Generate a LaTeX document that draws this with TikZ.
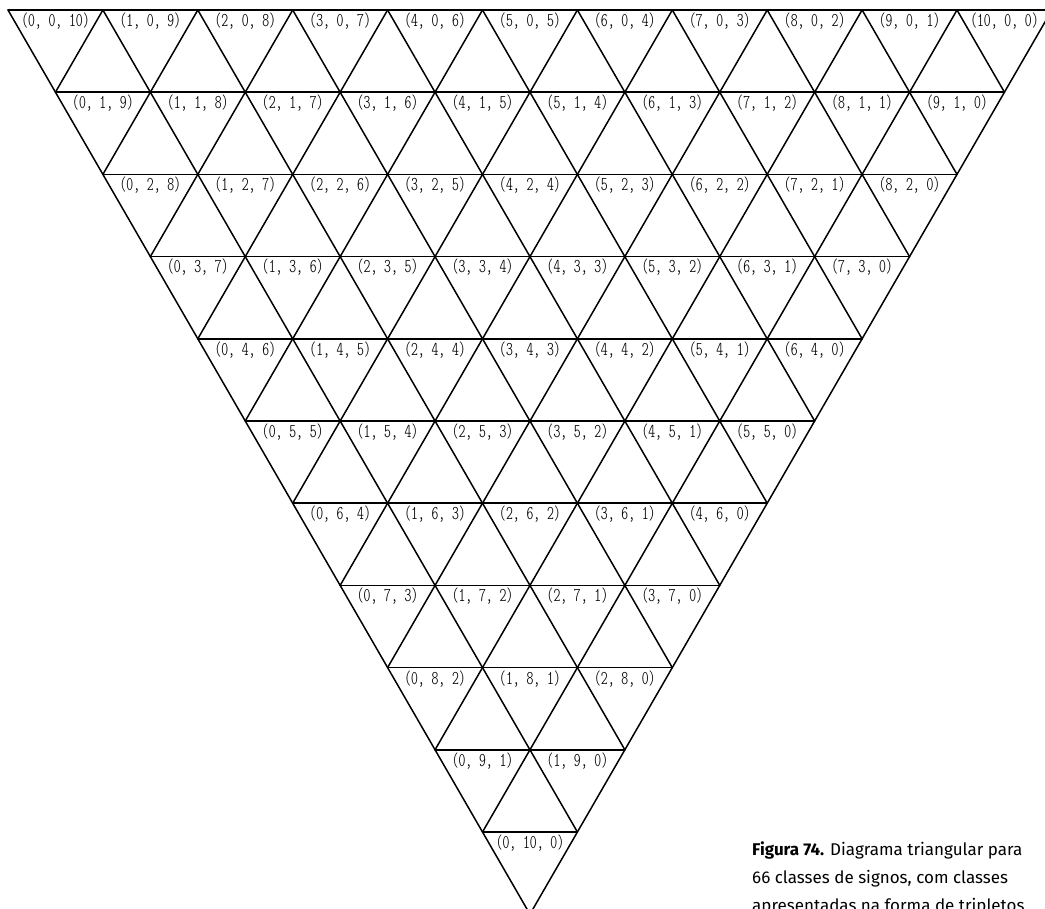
\documentclass[tikz,border=0pt]{standalone}
\usepackage{fontspec}
\newfontfamily\capfont{Fira Sans}
\IfFontExistsTF{FiraSans-ExtraBold.otf}
  {\newfontfamily\capheavy{FiraSans-ExtraBold.otf}}
  {\newcommand\capheavy{\bfseries}}
\begin{document}
\begin{tikzpicture}[x=1pt,y=-1pt,
  grid/.style={line width=1.5pt, line cap=round, line join=round},
  lab/.style={font=\fontsize{19.5}{19.5}\fontseries{lc}\ttfamily\selectfont, inner sep=0pt, anchor=center},
  captext/.style={anchor=base west, inner sep=0pt, font=\capfont\fontsize{17}{28}\selectfont}]
\useasboundingbox (0,0) rectangle (1045,909);
\clip (0,0) rectangle (1045,909);
\def\W{94.9}\def\H{82.2}\def\X{8}\def\Y{10}
\foreach \r in {0,...,10}
  \draw[grid] ({\X+\r*\W/2},{\Y+\r*\H}) -- ({\X+11*\W-\r*\W/2},{\Y+\r*\H});
\foreach \i in {0,...,10}
  \draw[grid] ({\X+\i*\W},\Y) -- ({\X+\i*\W+(11-\i)*\W/2},{\Y+(11-\i)*\H});
\foreach \i in {1,...,11}
  \draw[grid] ({\X+\i*\W},\Y) -- ({\X+\i*\W/2},{\Y+\i*\H});
\foreach \j in {0,...,10}{
  \pgfmathtruncatemacro\n{10-\j}
  \foreach \i in {0,...,\n}{
    \pgfmathtruncatemacro\k{10-\i-\j}
    \node[lab] (c-\i-\j) at ({\X+\j*\W/2+(\i+0.5)*\W},{\Y+\j*\H+11}) {(\i, \j, \k)};
  }
}
\node[captext] (cap1) at (752,855) {{\capheavy Figura 74.} Diagrama triangular para};
\node[captext] (cap2) at (752,883) {66 classes de signos, com classes};
\node[captext] (cap3) at (752,911) {apresentadas na forma de tripletos};
\end{tikzpicture}
\end{document}
